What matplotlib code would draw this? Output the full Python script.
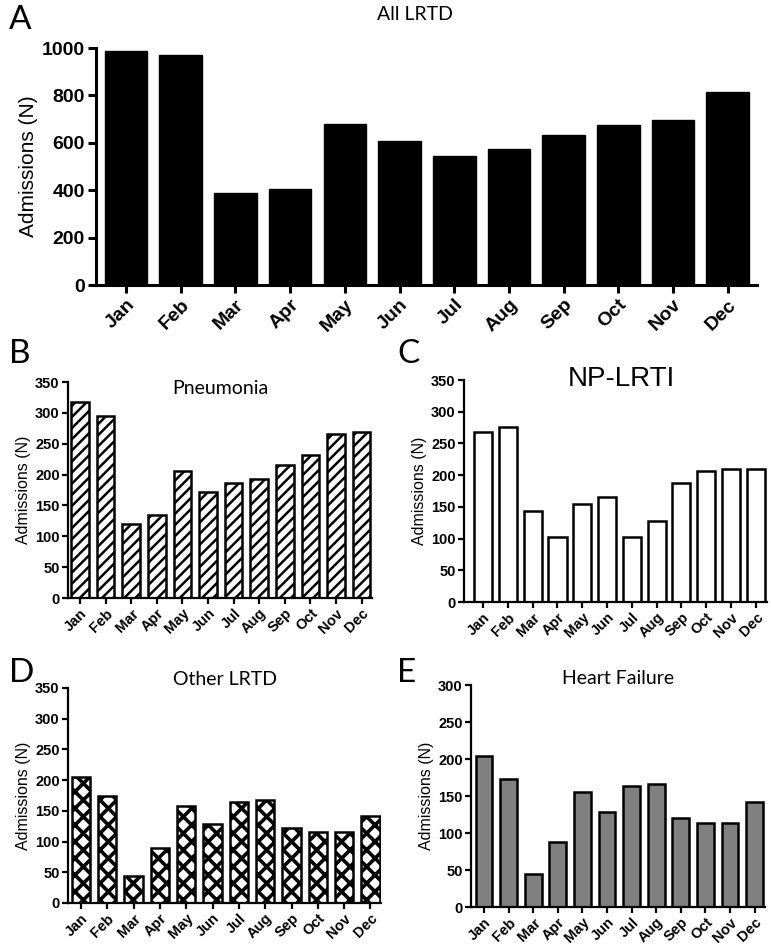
import numpy as np
import matplotlib.pyplot as plt

plt.rcParams['font.family'] = 'Liberation Sans'
plt.rcParams['hatch.linewidth'] = 1.5

months = ['Jan', 'Feb', 'Mar', 'Apr', 'May', 'Jun', 'Jul', 'Aug', 'Sep', 'Oct', 'Nov', 'Dec']
all_lrtd = [986, 970, 390, 406, 680, 606, 546, 576, 632, 677, 696, 814]
pneumonia = [317, 295, 120, 134, 206, 172, 186, 193, 215, 231, 266, 269]
np_lrti = [268, 276, 143, 103, 154, 165, 103, 128, 187, 206, 210, 209]
other_lrtd = [205, 174, 44, 89, 158, 129, 165, 167, 122, 115, 115, 142]
heart_failure = [204, 173, 44, 88, 156, 129, 163, 166, 121, 113, 113, 142]

x = np.arange(len(months))
title_font = 'Lato'


def style(ax, ymax, ystep, tick_fs, label_fs, lw, ticklen, xlim):
    ax.set_xlim(*xlim)
    ax.set_ylim(0, ymax)
    ax.set_yticks(np.arange(0, ymax + 1, ystep))
    ax.set_xticks(x)
    ax.set_xticklabels(months, rotation=45, ha='right', rotation_mode='anchor',
                       fontsize=tick_fs, fontweight='bold')
    for t in ax.get_yticklabels():
        t.set_fontsize(tick_fs)
        t.set_fontweight('bold')
    ax.spines['top'].set_visible(False)
    ax.spines['right'].set_visible(False)
    ax.spines['left'].set_linewidth(lw)
    ax.spines['bottom'].set_linewidth(lw)
    ax.tick_params(width=lw, length=ticklen, pad=2)
    ax.set_ylabel('Admissions (N)', fontsize=label_fs, labelpad=3)


def hatch_lw(bars, w):
    for p in bars:
        if hasattr(p, 'set_hatch_linewidth'):
            p.set_hatch_linewidth(w)


fig = plt.figure(figsize=(7.71, 9.47), dpi=100)

# A - all LRTD
axA = fig.add_axes([0.1245, 0.699, 0.857, 0.2503])
axA.bar(x, all_lrtd, width=0.78, color='black', edgecolor='black')
style(axA, 1000, 200, 14, 15, 2.2, 6, (-0.55, 11.53))
fig.text(0.5385, 0.985, 'All LRTD', ha='center', va='center', fontsize=14, family=title_font)
fig.text(0.012, 0.995, 'A', ha='left', va='top', fontsize=24, family=title_font)

# B - pneumonia
axB = fig.add_axes([0.0882, 0.3685, 0.394, 0.2281])
with plt.rc_context({'hatch.linewidth': 1.8}):
    bars = axB.bar(x, pneumonia, width=0.69, color='white', edgecolor='black',
                   linewidth=1.8, hatch='///')
hatch_lw(bars, 1.8)
style(axB, 350, 50, 10.5, 11.5, 1.6, 4, (-0.47, 11.4))
axB.text(0.5, 0.968, 'Pneumonia', transform=axB.transAxes, ha='center', va='center',
         fontsize=14, family=title_font)
fig.text(0.012, 0.642, 'B', ha='left', va='top', fontsize=24, family=title_font)

# C - NP-LRTI
axC = fig.add_axes([0.6018, 0.3643, 0.393, 0.2344])
axC.bar(x, np_lrti, width=0.73, color='white', edgecolor='black', linewidth=1.8)
style(axC, 350, 50, 10.5, 11.5, 1.6, 4, (-0.77, 11.45))
axC.text(0.52, 1.005, 'NP-LRTI', transform=axC.transAxes, ha='center', va='center',
         fontsize=20)
fig.text(0.515, 0.642, 'C', ha='left', va='top', fontsize=24, family=title_font)

# D - other LRTD
axD = fig.add_axes([0.0882, 0.0465, 0.406, 0.227])
with plt.rc_context({'hatch.linewidth': 2.6}):
    bars = axD.bar(x, other_lrtd, width=0.7, color='white', edgecolor='black',
                   linewidth=1.8, hatch='xx')
hatch_lw(bars, 2.6)
style(axD, 350, 50, 10.5, 11.5, 1.6, 4, (-0.49, 11.4))
axD.text(0.5, 1.04, 'Other LRTD', transform=axD.transAxes, ha='center', va='center',
         fontsize=14, family=title_font)
fig.text(0.012, 0.305, 'D', ha='left', va='top', fontsize=24, family=title_font)

# E - heart failure
axE = fig.add_axes([0.611, 0.0422, 0.381, 0.2344])
axE.bar(x, heart_failure, width=0.68, color='#808080', edgecolor='black', linewidth=1.8)
style(axE, 300, 50, 10.5, 11.5, 1.6, 4, (-0.53, 11.42))
axE.text(0.5, 1.03, 'Heart Failure', transform=axE.transAxes, ha='center', va='center',
         fontsize=14, family=title_font)
fig.text(0.515, 0.305, 'E', ha='left', va='top', fontsize=24, family=title_font)

fig.savefig('out.png', dpi=100)
